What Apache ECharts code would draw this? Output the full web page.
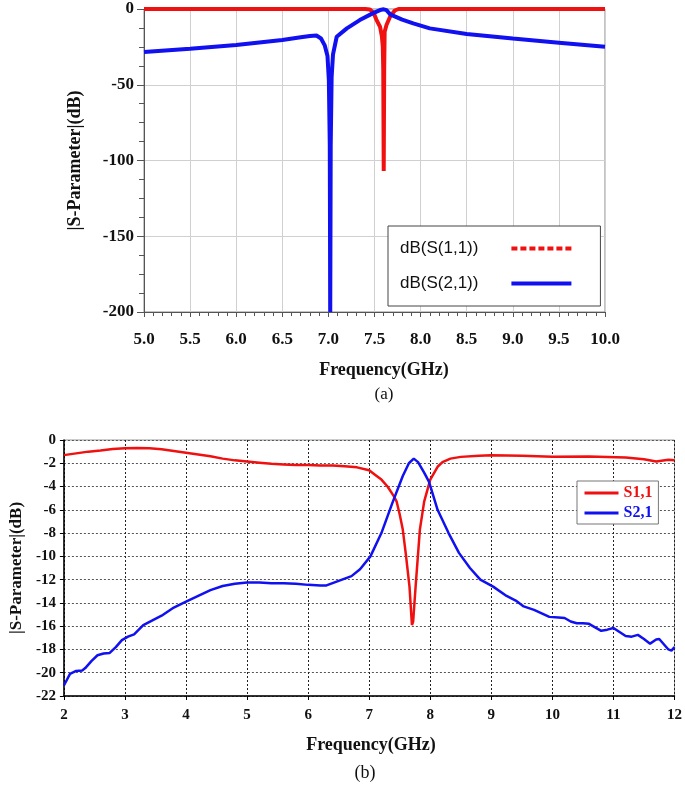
<!DOCTYPE html>
<html>
<head>
<meta charset="utf-8">
<script src="https://cdn.jsdelivr.net/npm/echarts@6/dist/echarts.min.js"></script>
<style>
html,body{margin:0;padding:0;background:#fff;}
#c{width:685px;height:785px;}
</style>
</head>
<body>
<div id="c"></div>
<script>
// ---------- Chart (a) data ----------
const freqA11 = [5.0, 6.0, 7.0, 7.4, 7.45, 7.49, 7.52, 7.56, 7.58, 7.59, 7.595, 7.6, 7.605, 7.61, 7.63, 7.67, 7.72, 7.76, 8.0, 9.0, 10.0];
const s11A    = [0, 0, 0, 0, -0.3, -2.5, -7, -11.7, -18, -25, -40, -107, -40, -15, -10.6, -5, -1, 0, 0, 0, 0];
const freqA21 = [5.0, 5.5, 6.0, 6.5, 6.7, 6.8, 6.87, 6.92, 6.96, 6.99, 7.005, 7.015, 7.02, 7.025, 7.035, 7.05, 7.09, 7.2, 7.34, 7.48, 7.56, 7.6, 7.63, 7.67, 7.8, 7.92, 8.1, 8.5, 9.0, 9.5, 10.0];
const s21A    = [-28.4, -26.2, -23.8, -20.5, -18.7, -17.8, -17.5, -19.5, -24, -31, -47, -90, -200, -90, -45, -30, -18.3, -12.8, -7.3, -2.9, -0.7, -0.2, -0.8, -3.5, -7, -9.5, -12.8, -16.5, -19.5, -22.2, -24.9];
const xTicksA = [5.0, 5.5, 6.0, 6.5, 7.0, 7.5, 8.0, 8.5, 9.0, 9.5, 10.0];
const yTicksA = [0, -50, -100, -150, -200];

// ---------- Chart (b) data ----------
const freqB11 = [2.0, 2.2, 2.4, 2.6, 2.8, 3.0, 3.2, 3.4, 3.6, 3.8, 4.0, 4.2, 4.4, 4.6, 4.8, 5.0, 5.2, 5.4, 5.6, 5.8, 6.0, 6.2, 6.4, 6.6, 6.8, 7.0, 7.1, 7.2, 7.3, 7.4, 7.45, 7.5, 7.55, 7.6, 7.66, 7.7, 7.72, 7.76, 7.83, 7.9, 8.0, 8.12, 8.2, 8.33, 8.5, 8.8, 9.0, 9.5, 10.0, 10.6, 11.2, 11.5, 11.7, 11.9, 12.0];
const s11B    = [-1.3, -1.15, -1.0, -0.9, -0.78, -0.7, -0.68, -0.7, -0.8, -0.95, -1.1, -1.25, -1.4, -1.6, -1.75, -1.85, -1.95, -2.05, -2.1, -2.15, -2.15, -2.2, -2.2, -2.25, -2.35, -2.6, -3.0, -3.4, -4.0, -4.8, -5.3, -6.4, -7.7, -9.8, -12.6, -15.9, -15.6, -12.6, -7.7, -5.3, -3.4, -2.3, -1.9, -1.6, -1.45, -1.35, -1.3, -1.35, -1.43, -1.42, -1.5, -1.65, -1.85, -1.7, -1.75];
const freqB21 = [2.0, 2.05, 2.1, 2.2, 2.3, 2.35, 2.45, 2.55, 2.65, 2.75, 2.85, 2.95, 3.05, 3.15, 3.3, 3.45, 3.6, 3.8, 4.0, 4.2, 4.4, 4.6, 4.8, 5.0, 5.2, 5.4, 5.6, 5.8, 6.0, 6.2, 6.3, 6.5, 6.71, 6.85, 7.02, 7.2, 7.38, 7.55, 7.65, 7.73, 7.8, 7.9, 7.98, 8.05, 8.12, 8.3, 8.47, 8.65, 8.82, 9.03, 9.25, 9.4, 9.53, 9.7, 9.95, 10.1, 10.2, 10.3, 10.4, 10.5, 10.6, 10.7, 10.8, 10.9, 11.0, 11.1, 11.2, 11.3, 11.4, 11.5, 11.6, 11.7, 11.75, 11.8, 11.9, 11.95, 12.0];
const s21B    = [-21.1, -20.6, -20.1, -19.85, -19.8, -19.6, -19.0, -18.5, -18.35, -18.3, -17.8, -17.2, -16.9, -16.7, -15.9, -15.5, -15.1, -14.4, -13.9, -13.4, -12.9, -12.55, -12.35, -12.25, -12.25, -12.3, -12.3, -12.35, -12.45, -12.5, -12.5, -12.1, -11.7, -11.1, -10.0, -8.0, -5.4, -3.1, -2.0, -1.6, -1.9, -2.8, -3.6, -4.8, -6.0, -8.0, -9.7, -11.0, -12.0, -12.6, -13.4, -13.8, -14.3, -14.6, -15.2, -15.25, -15.3, -15.6, -15.75, -15.75, -15.8, -16.1, -16.4, -16.3, -16.15, -16.5, -16.85, -16.9, -16.75, -17.1, -17.5, -17.15, -17.1, -17.4, -18.0, -18.1, -17.8];
const xTicksB = [2, 3, 4, 5, 6, 7, 8, 9, 10, 11, 12];
const yTicksB = [0, -2, -4, -6, -8, -10, -12, -14, -16, -18, -20, -22];

const namesA = ['dB(S(1,1))', 'dB(S(2,1))'];
const namesB = ['S1,1', 'S2,1'];

function pairs(xs, ys) { return xs.map((x, i) => [x, ys[i]]); }

const RED = '#f01010';
const BLUE = '#1010f0';
const SERIF = '"Liberation Serif", "Times New Roman", serif';
const SANS = '"Liberation Sans", Arial, sans-serif';

const chart = echarts.init(document.getElementById('c'), null, {renderer: 'canvas'});

const option = {
  animation: false,
  backgroundColor: '#fff',
  grid: [
    {left: 144, top: 9, width: 461, height: 303, show: true, borderColor: '#888', borderWidth: 1, backgroundColor: 'transparent'},
    {left: 58, top: 440, width: 619, height: 256, show: true, borderColor: '#999', borderWidth: 1, backgroundColor: 'transparent'}
  ],
  xAxis: [
    {
      gridIndex: 0, type: 'value', min: xTicksA[0], max: xTicksA[xTicksA.length - 1], interval: 0.5,
      axisLine: {onZero: false, lineStyle: {color: '#555', width: 1}},
      axisTick: {show: true, length: 5, lineStyle: {color: '#555'}},
      minorTick: {show: true, splitNumber: 5, length: 4, lineStyle: {color: '#555'}},
      splitLine: {show: true, lineStyle: {color: '#d0d0d0', width: 1}},
      axisLabel: {margin: 19, color: '#111', fontFamily: SERIF, fontWeight: 'bold', fontSize: 17,
        formatter: v => v.toFixed(1)}
    },
    {
      gridIndex: 1, type: 'value', min: xTicksB[0], max: xTicksB[xTicksB.length - 1], interval: 1,
      axisLine: {onZero: false, lineStyle: {color: '#000', width: 1.5}},
      axisTick: {show: true, length: 4, lineStyle: {color: '#000'}},
      splitLine: {show: true, lineStyle: {color: '#222', width: 1, type: [2, 2]}},
      axisLabel: {margin: 12, color: '#111', fontFamily: SERIF, fontWeight: 'bold', fontSize: 15}
    }
  ],
  yAxis: [
    {
      gridIndex: 0, type: 'value', min: yTicksA[yTicksA.length - 1], max: yTicksA[0], interval: 50,
      name: '|S-Parameter|(dB)', nameLocation: 'middle', nameGap: 60, nameRotate: 90,
      nameTextStyle: {fontFamily: SERIF, fontWeight: 'bold', fontSize: 18, color: '#111'},
      axisLine: {onZero: false, lineStyle: {color: '#555', width: 1}},
      axisTick: {show: true, length: 7, lineStyle: {color: '#555'}},
      minorTick: {show: true, splitNumber: 4, length: 5, lineStyle: {color: '#555'}},
      splitLine: {show: true, lineStyle: {color: '#d0d0d0', width: 1}},
      axisLabel: {margin: 10, color: '#111', fontFamily: SERIF, fontWeight: 'bold', fontSize: 17}
    },
    {
      gridIndex: 1, type: 'value', min: yTicksB[yTicksB.length - 1], max: yTicksB[0], interval: 2,
      name: '|S-Parameter|(dB)', nameLocation: 'middle', nameGap: 36, nameRotate: 90,
      nameTextStyle: {fontFamily: SERIF, fontWeight: 'bold', fontSize: 17, color: '#111'},
      axisLine: {onZero: false, lineStyle: {color: '#000', width: 1.5}},
      axisTick: {show: true, length: 4, lineStyle: {color: '#000'}},
      splitLine: {show: true, lineStyle: {color: '#555', width: 1, type: [2, 2]}},
      axisLabel: {margin: 8, color: '#111', fontFamily: SERIF, fontWeight: 'bold', fontSize: 15}
    }
  ],
  legend: [
    {
      orient: 'vertical', left: 388, top: 226, align: 'right',
      backgroundColor: '#fff', borderColor: '#444', borderWidth: 1,
      padding: [14, 27, 14, 12], itemGap: 18, itemWidth: 60, itemHeight: 16,
      itemStyle: {opacity: 0, borderWidth: 0},
      textStyle: {fontFamily: SANS, fontSize: 17, color: '#111', padding: [0, 28, 0, 0]},
      data: [
        {name: namesA[0], lineStyle: {type: [6, 3], width: 4}},
        {name: namesA[1], lineStyle: {width: 4}}
      ]
    },
    {
      orient: 'vertical', left: 577, top: 481, align: 'left',
      backgroundColor: '#fff', borderColor: '#777', borderWidth: 1,
      padding: [4, 6, 3, 6], itemGap: 4, itemWidth: 34, itemHeight: 14,
      itemStyle: {opacity: 0, borderWidth: 0},
      lineStyle: {width: 3},
      textStyle: {fontFamily: SERIF, fontWeight: 'bold', fontSize: 16},
      data: [
        {name: namesB[0], textStyle: {color: RED}},
        {name: namesB[1], textStyle: {color: BLUE}}
      ]
    }
  ],
  graphic: [
    {type: 'text', x: 384, y: 370, style: {text: 'Frequency(GHz)', font: 'bold 18px ' + SERIF, fill: '#111', align: 'center', verticalAlign: 'middle'}},
    {type: 'text', x: 384, y: 395, style: {text: '(a)', font: '17px ' + SERIF, fill: '#111', align: 'center', verticalAlign: 'middle'}},
    {type: 'text', x: 371, y: 745, style: {text: 'Frequency(GHz)', font: 'bold 18px ' + SERIF, fill: '#111', align: 'center', verticalAlign: 'middle'}},
    {type: 'text', x: 365, y: 773, style: {text: '(b)', font: '18px ' + SERIF, fill: '#111', align: 'center', verticalAlign: 'middle'}}
  ],
  series: [
    {
      name: namesA[0], type: 'line', xAxisIndex: 0, yAxisIndex: 0, symbol: 'none', clip: true,
      lineStyle: {color: RED, width: 4}, itemStyle: {color: RED},
      data: pairs(freqA11, s11A), z: 3
    },
    {
      name: namesA[1], type: 'line', xAxisIndex: 0, yAxisIndex: 0, symbol: 'none', clip: true,
      lineStyle: {color: BLUE, width: 4}, itemStyle: {color: BLUE},
      data: pairs(freqA21, s21A), z: 4
    },
    {
      name: namesB[0], type: 'line', xAxisIndex: 1, yAxisIndex: 1, symbol: 'none', clip: true,
      lineStyle: {color: RED, width: 2.5}, itemStyle: {color: RED},
      data: pairs(freqB11, s11B), z: 3
    },
    {
      name: namesB[1], type: 'line', xAxisIndex: 1, yAxisIndex: 1, symbol: 'none', clip: true,
      lineStyle: {color: BLUE, width: 2.5}, itemStyle: {color: BLUE},
      data: pairs(freqB21, s21B), z: 4
    }
  ]
};
chart.setOption(option);
</script>
</body>
</html>
